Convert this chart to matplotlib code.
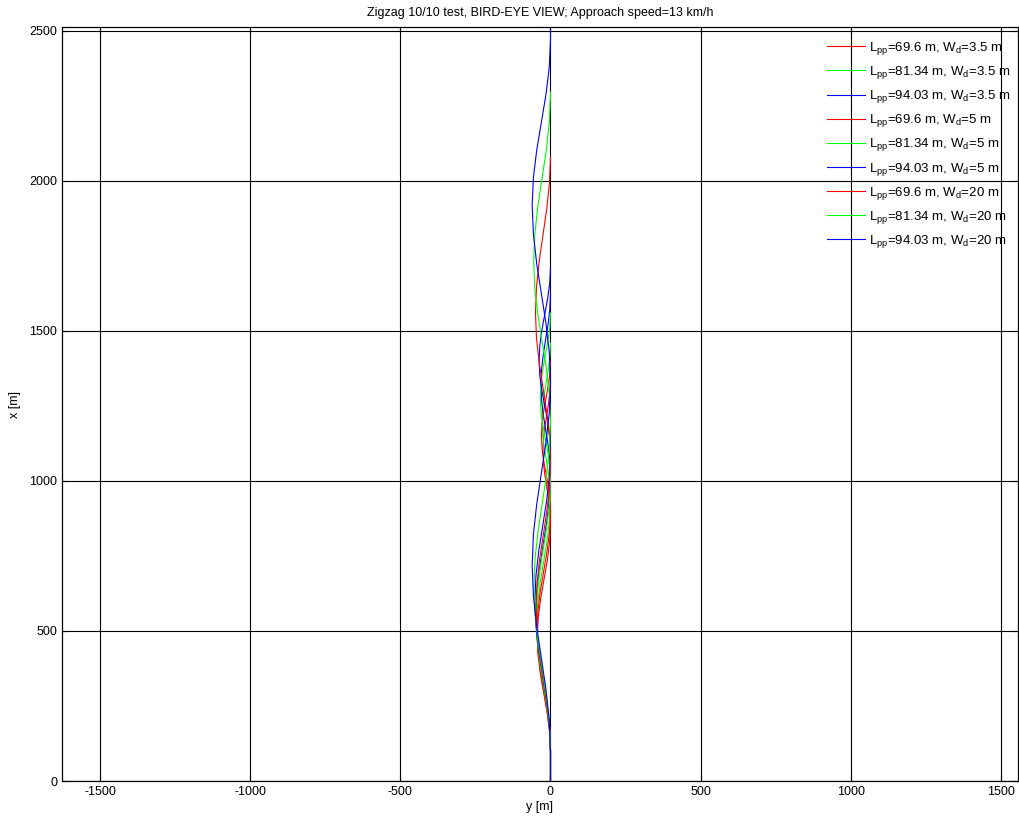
import matplotlib
matplotlib.use("Agg")
import matplotlib.pyplot as plt

# forward distance x [m] and lateral offset y [m]
x_r35 = [0, 100, 163, 227, 290, 353, 417, 480, 543, 607, 670, 733, 797, 860,
         900, 940, 980, 1020, 1060, 1100, 1140, 1180, 1220, 1260, 1300, 1340]
y_r35 = [0, 0, -2.9, -11, -22, -33, -41, -44, -41, -33, -22, -11, -2.9, 0,
         -1.7, -6.3, -12.5, -18.8, -23.3, -25, -23.3, -18.8, -12.5, -6.3, -1.7, 0]

x_g35 = [0, 100, 170, 240, 310, 380, 450, 520, 590, 660, 730, 800, 870, 940,
         983, 1027, 1070, 1113, 1157, 1200, 1243, 1287, 1330, 1373, 1417, 1460]
y_g35 = [0, 0, -3.1, -11.5, -23, -34.5, -42.9, -46, -42.9, -34.5, -23, -11.5, -3.1, 0,
         -1.9, -7, -14, -21, -26.1, -28, -26.1, -21, -14, -7, -1.9, 0]

x_b35 = [0, 100, 177, 253, 330, 407, 483, 560, 637, 713, 790, 867, 943, 1020,
         1070, 1120, 1170, 1220, 1270, 1320, 1371, 1422, 1473, 1523, 1574, 1625]
y_b35 = [0, 0, -3.2, -12, -24, -36, -44.8, -48, -44.8, -36, -24, -12, -3.2, 0,
         -2.1, -8, -16, -24, -29.9, -32, -29.9, -24, -16, -8, -2.1, 0]

x_r5 = [0, 100, 167, 233, 300, 367, 433, 500, 567, 633, 700, 767, 833, 900,
        942, 983, 1025, 1067, 1108, 1150, 1192, 1233, 1275, 1317, 1358, 1400]
y_r5 = [0, 0, -3, -11.3, -22.5, -33.8, -42, -45, -42, -33.8, -22.5, -11.3, -3, 0,
        -2, -7.5, -15, -22.5, -28, -30, -28, -22.5, -15, -7.5, -2, 0]

x_g5 = [0, 100, 175, 250, 325, 400, 475, 550, 625, 700, 775, 850, 925, 1000,
        1047, 1093, 1140, 1187, 1233, 1280, 1327, 1373, 1420, 1467, 1513, 1560]
y_g5 = [0, 0, -3.2, -12, -24, -36, -44.8, -48, -44.8, -36, -24, -12, -3.2, 0,
        -2.3, -8.5, -17, -25.5, -31.7, -34, -31.7, -25.5, -17, -8.5, -2.3, 0]

x_b5 = [0, 100, 183, 267, 350, 433, 517, 600, 683, 767, 850, 933, 1017, 1100,
        1150, 1200, 1250, 1300, 1350, 1400, 1452, 1504, 1556, 1608, 1660, 1712]
y_b5 = [0, 0, -3.5, -13, -26, -39, -48.5, -52, -48.5, -39, -26, -13, -3.5, 0,
        -2.5, -9.5, -19, -28.5, -35.5, -38, -35.5, -28.5, -19, -9.5, -2.5, 0]

x_r20 = [0, 100, 180, 260, 340, 420, 500, 580, 660, 740, 820, 900, 980, 1060,
         1143, 1227, 1310, 1393, 1477, 1560, 1647, 1733, 1820, 1907, 1993, 2080]
y_r20 = [0, 0, -3.2, -12, -24, -36, -44.8, -48, -44.8, -36, -24, -12, -3.2, 0,
         -3.4, -12.5, -25, -37.5, -46.7, -50, -46.7, -37.5, -25, -12.5, -3.4, 0]

x_g20 = [0, 100, 192, 283, 375, 467, 558, 650, 742, 833, 925, 1017, 1108, 1200,
         1288, 1377, 1465, 1553, 1642, 1730, 1823, 1917, 2010, 2103, 2197, 2290, 2295]
y_g20 = [0, 0, -3.7, -13.8, -27.5, -41.3, -51.3, -55, -51.3, -41.3, -27.5, -13.8, -3.7, 0,
         -3.8, -14, -28, -42, -52.2, -56, -52.2, -42, -28, -14, -3.8, 0, 0]

x_b20 = [0, 100, 203, 307, 410, 513, 617, 720, 822, 923, 1025, 1127, 1228, 1330,
         1428, 1527, 1625, 1723, 1822, 1920, 2012, 2103, 2195, 2287, 2378, 2470, 2505]
y_b20 = [0, 0, -4.1, -15.3, -30.5, -45.8, -56.9, -61, -56.9, -45.8, -30.5, -15.3, -4.1, 0,
         -4.1, -15.3, -30.5, -45.8, -56.9, -61, -56.9, -45.8, -30.5, -15.3, -4.1, 0, 0]

labels = [
    "L$_{pp}$=69.6 m, W$_d$=3.5 m",
    "L$_{pp}$=81.34 m, W$_d$=3.5 m",
    "L$_{pp}$=94.03 m, W$_d$=3.5 m",
    "L$_{pp}$=69.6 m, W$_d$=5 m",
    "L$_{pp}$=81.34 m, W$_d$=5 m",
    "L$_{pp}$=94.03 m, W$_d$=5 m",
    "L$_{pp}$=69.6 m, W$_d$=20 m",
    "L$_{pp}$=81.34 m, W$_d$=20 m",
    "L$_{pp}$=94.03 m, W$_d$=20 m",
]
colors = ["#ff0000", "#00ff00", "#0000ff"] * 3

series = [(x_r35, y_r35), (x_g35, y_g35), (x_b35, y_b35),
          (x_r5, y_r5), (x_g5, y_g5), (x_b5, y_b5),
          (x_r20, y_r20), (x_g20, y_g20), (x_b20, y_b20)]

plt.rcParams["font.family"] = ["Liberation Sans", "DejaVu Sans"]
plt.rcParams["mathtext.default"] = "regular"
plt.rcParams["axes.unicode_minus"] = False

fig = plt.figure(figsize=(10.2, 8.21), dpi=100)
ax = fig.add_axes([62 / 1020, 40 / 821, 956 / 1020, 754 / 821])

for (xs, ys), c, lab in zip(series, colors, labels):
    ax.plot(ys, xs, color=c, lw=0.8, label=lab)

ax.set_xlim(-1626.5, 1556.6)
ax.set_ylim(0, 2513)
ax.set_xticks([-1500, -1000, -500, 0, 500, 1000, 1500])
ax.set_yticks([0, 500, 1000, 1500, 2000, 2500])
ax.grid(True, color="black", lw=0.8, ls="-")
ax.set_axisbelow(True)
ax.tick_params(direction="in", top=True, right=True, length=4, labelsize=9)
for sp in ax.spines.values():
    sp.set_linewidth(0.9)

ax.set_xlabel("y [m]", fontsize=9, labelpad=2)
ax.set_ylabel("x [m]", fontsize=9, labelpad=6)
ax.set_title("Zigzag 10/10 test, BIRD-EYE VIEW; Approach speed=13 km/h", fontsize=9, pad=8)

ax.legend(loc="upper left", bbox_to_anchor=(827 / 1020, 1 - 40 / 821),
          bbox_transform=fig.transFigure, frameon=False, borderpad=0, borderaxespad=0,
          fontsize=9.5, handlelength=2.9, labelspacing=0.54, handletextpad=0.3)

fig.savefig("out.png", dpi=100)
